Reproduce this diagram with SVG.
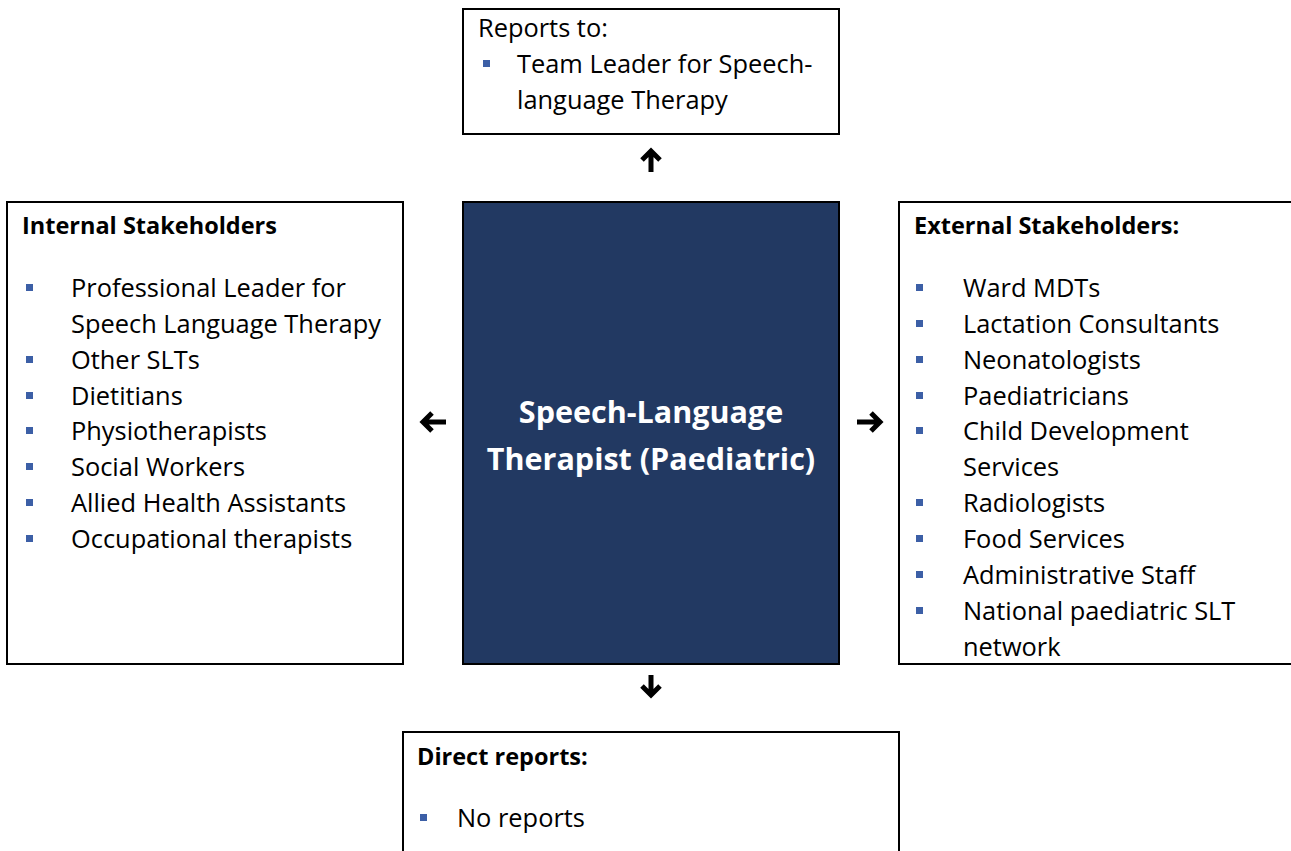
<svg xmlns="http://www.w3.org/2000/svg" width="1291" height="851" viewBox="0 0 1291 851">
<style>
.box{fill:#fff;stroke:#000;stroke-width:2}
.t{font-family:"Open Sans","Liberation Sans",sans-serif;font-size:25.4px;fill:#000}
.b{font-weight:bold;font-size:23.5px}
.c{font-family:"Open Sans","Liberation Sans",sans-serif;font-size:30.5px;font-weight:bold;fill:#fff;text-anchor:middle}
.bl{fill:#3C5FA6}
.ar{fill:none;stroke:#000;stroke-width:5;stroke-linecap:butt;stroke-linejoin:miter}
</style>
<rect width="1291" height="851" fill="#fff"/>
<g id="reports-to">
<rect class="box" x="463" y="9" width="376" height="125"/>
<text class="t" x="478" y="37">Reports to:</text>
<rect class="bl" x="483" y="60" width="7" height="7"/>
<text class="t" x="517" y="73">Team Leader for Speech-</text>
<text class="t" x="517" y="109">language Therapy</text>
</g>
<g id="internal">
<rect class="box" x="7" y="202" width="396" height="462"/>
<text class="t b" x="22" y="234">Internal Stakeholders</text>
<g>
<rect class="bl" x="26" y="284" width="7" height="7"/>
<rect class="bl" x="26" y="356" width="7" height="7"/>
<rect class="bl" x="26" y="392" width="7" height="7"/>
<rect class="bl" x="26" y="427" width="7" height="7"/>
<rect class="bl" x="26" y="463" width="7" height="7"/>
<rect class="bl" x="26" y="499" width="7" height="7"/>
<rect class="bl" x="26" y="535" width="7" height="7"/>
</g>
<text class="t" x="71" y="297">Professional Leader for</text>
<text class="t" x="71" y="333">Speech Language Therapy</text>
<text class="t" x="71" y="369">Other SLTs</text>
<text class="t" x="71" y="405">Dietitians</text>
<text class="t" x="71" y="440">Physiotherapists</text>
<text class="t" x="71" y="476">Social Workers</text>
<text class="t" x="71" y="512">Allied Health Assistants</text>
<text class="t" x="71" y="548">Occupational therapists</text>
</g>
<g id="center">
<rect x="463" y="202" width="376" height="462" fill="#223962" stroke="#000" stroke-width="2"/>
<text class="c" x="651" y="423">Speech-Language</text>
<text class="c" x="651" y="470">Therapist (Paediatric)</text>
</g>
<g id="external">
<rect class="box" x="899" y="202" width="400" height="462"/>
<text class="t b" x="914" y="234">External Stakeholders:</text>
<g>
<rect class="bl" x="916" y="284" width="7" height="7"/>
<rect class="bl" x="916" y="320" width="7" height="7"/>
<rect class="bl" x="916" y="356" width="7" height="7"/>
<rect class="bl" x="916" y="392" width="7" height="7"/>
<rect class="bl" x="916" y="427" width="7" height="7"/>
<rect class="bl" x="916" y="499" width="7" height="7"/>
<rect class="bl" x="916" y="535" width="7" height="7"/>
<rect class="bl" x="916" y="571" width="7" height="7"/>
<rect class="bl" x="916" y="607" width="7" height="7"/>
</g>
<text class="t" x="963" y="297">Ward MDTs</text>
<text class="t" x="963" y="333">Lactation Consultants</text>
<text class="t" x="963" y="369">Neonatologists</text>
<text class="t" x="963" y="405">Paediatricians</text>
<text class="t" x="963" y="440">Child Development</text>
<text class="t" x="963" y="476">Services</text>
<text class="t" x="963" y="512">Radiologists</text>
<text class="t" x="963" y="548">Food Services</text>
<text class="t" x="963" y="584">Administrative Staff</text>
<text class="t" x="963" y="620">National paediatric SLT</text>
<text class="t" x="963" y="656">network</text>
</g>
<g id="direct-reports">
<rect class="box" x="403" y="732" width="496" height="130"/>
<text class="t b" x="417" y="765">Direct reports:</text>
<rect class="bl" x="420" y="814" width="7" height="7"/>
<text class="t" x="457" y="827">No reports</text>
</g>
<g id="connectors">
<path class="ar" d="M651 172V151M642 160L651 151L660 160"/>
<path class="ar" d="M651 675V695M642 686L651 695L660 686"/>
<path class="ar" d="M446 422H423M432 413L423 422L432 431"/>
<path class="ar" d="M857 422H880M871 413L880 422L871 431"/>
</g>
</svg>
